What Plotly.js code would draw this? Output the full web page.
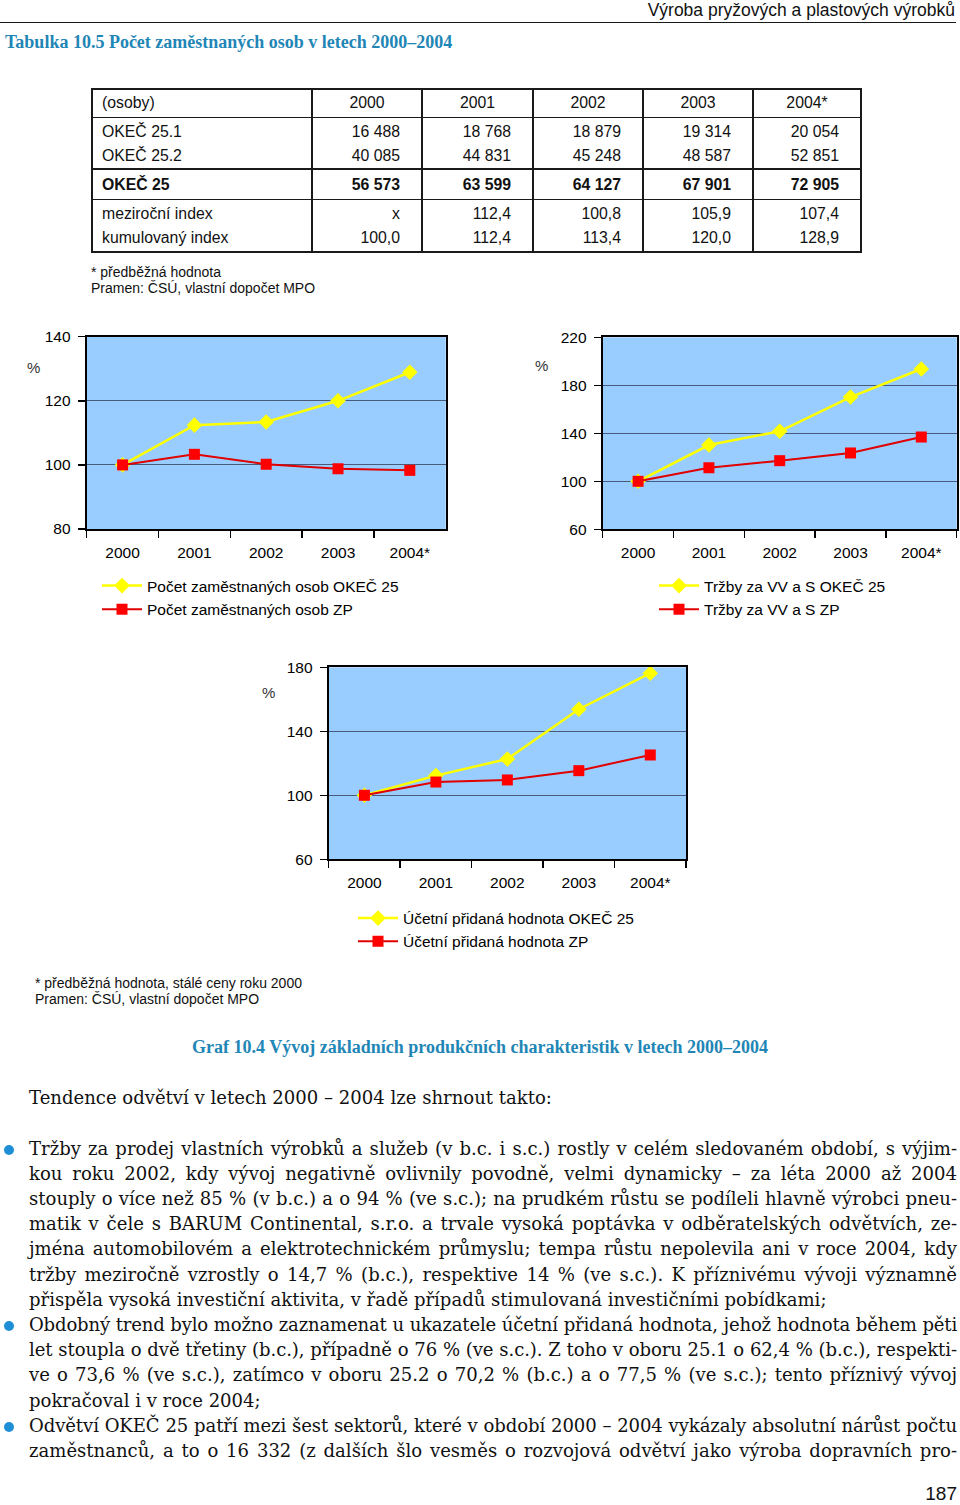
<!DOCTYPE html>
<html><head><meta charset="utf-8">
<script src="https://cdn.plot.ly/plotly-3.0.1.min.js"></script>
<style>
body{margin:0;padding:0;background:#fff;}
#page{position:relative;width:960px;height:1505px;overflow:hidden;font-family:"Liberation Sans",Arial,sans-serif;color:#111;}
#plot{position:absolute;left:0;top:0;width:960px;height:1505px;z-index:0;}
#overlay{position:absolute;left:0;top:0;width:960px;height:1505px;z-index:1;pointer-events:none;}
.t{position:absolute;white-space:nowrap;}
.hl{position:absolute;background:#1a1a1a;}
.serif{font-family:"Liberation Serif","Times New Roman",serif;}
.body{font-family:"DejaVu Serif",serif;}
.jl{position:absolute;left:29px;width:928px;height:25.2px;line-height:25.2px;text-align:justify;text-align-last:justify;white-space:normal;overflow:visible;}
.jl.last{text-align:left;text-align-last:left;}
.bullet{position:absolute;width:10px;height:10px;border-radius:50%;background:#1e8fd6;}
</style></head>
<body><div id="page"><div id="plot"></div><div id="overlay"></div></div>
<script>
// ---------- data ----------
const years = ['2000', '2001', '2002', '2003', '2004*'];
// chart 1: employment index (%)
const emplOKEC25 = [100.0, 112.4, 113.4, 120.0, 128.9];
const emplZP = [100.0, 103.3, 100.2, 98.8, 98.3];
// chart 2: sales of own products and services (%)
const salesOKEC25 = [100.0, 130.2, 141.7, 170.2, 193.6];
const salesZP = [100.0, 111.3, 117.2, 123.6, 136.9];
// chart 3: accounting value added (%)
const vaOKEC25 = [100.0, 112.3, 122.7, 153.8, 176.3];
const vaZP = [100.0, 108.3, 109.6, 115.4, 125.2];

// table 10.5
const tableCorner = '(osoby)';
const rowLabels = ['OKEČ 25.1', 'OKEČ 25.2', 'OKEČ 25', 'meziroční index', 'kumulovaný index'];
const okec251 = ['16 488', '18 768', '18 879', '19 314', '20 054'];
const okec252 = ['40 085', '44 831', '45 248', '48 587', '52 851'];
const okec25 = ['56 573', '63 599', '64 127', '67 901', '72 905'];
const yoyIndex = ['x', '112,4', '100,8', '105,9', '107,4'];
const cumIndex = ['100,0', '112,4', '113,4', '120,0', '128,9'];

// ---------- overlay text ----------
const ov = document.getElementById('overlay');
function txt(s, x, yc, opts) {
  opts = opts || {};
  const d = document.createElement('div');
  d.className = 't' + (opts.cls ? ' ' + opts.cls : '');
  d.textContent = s;
  const fs = opts.size || 15;
  const lh = opts.lh || 1.2;
  d.style.fontSize = fs + 'px';
  d.style.lineHeight = (fs * lh) + 'px';
  d.style.top = (yc - fs * lh / 2) + 'px';
  if (opts.weight) d.style.fontWeight = opts.weight;
  if (opts.color) d.style.color = opts.color;
  if (opts.align === 'right') { d.style.right = (960 - x) + 'px'; }
  else if (opts.align === 'center') { d.style.left = (x - 400) + 'px'; d.style.width = '800px'; d.style.textAlign = 'center'; }
  else d.style.left = x + 'px';
  ov.appendChild(d);
  return d;
}
function line(x, y, w, h) {
  const d = document.createElement('div');
  d.className = 'hl';
  d.style.left = x + 'px'; d.style.top = y + 'px';
  d.style.width = w + 'px'; d.style.height = h + 'px';
  ov.appendChild(d);
}

// page header
txt('Výroba pryžových a plastových výrobků', 955, 10.5, {size: 17.5, lh: 1.15, align: 'right', color: '#111'});
line(0, 21.5, 956, 1.5);
txt('Tabulka 10.5 Počet zaměstnaných osob v letech 2000–2004', 5, 43, {size: 18, weight: 'bold', cls: 'serif', color: '#1f86b6'});

// table
const TS = 15.8;
const colX = [92, 312, 422, 533, 643, 753, 861];
const rowY = [103, 132, 156, 185, 214, 238];
const tableRows = [okec251, okec252, okec25, yoyIndex, cumIndex];
txt(tableCorner, 102, rowY[0], {size: TS});
years.forEach((y, i) => txt(y, (colX[i + 1] + colX[i + 2]) / 2, rowY[0], {size: TS, align: 'center'}));
tableRows.forEach((vals, r) => {
  const bold = r === 2 ? 'bold' : null;
  txt(rowLabels[r], 102, rowY[r + 1], {size: TS, weight: bold});
  vals.forEach((v, i) => txt(v, colX[i + 2] - 22, rowY[r + 1], {size: TS, weight: bold, align: 'right'}));
});
// table rules
line(91, 87.5, 771, 2);      // top
line(91, 250.5, 771, 2);     // bottom
line(91, 87.5, 2, 165);      // left
line(860, 87.5, 2, 165);     // right
[312, 422, 533, 643, 753].forEach(x => line(x - 0.75, 88, 1.5, 163));
[117.5, 169, 199.5].forEach(y => line(92, y - 0.75, 769, 1.5));

txt('* předběžná hodnota', 91, 272, {size: 14});
txt('Pramen: ČSÚ, vlastní dopočet MPO', 91, 288, {size: 14});

// % labels
txt('%', 27, 368, {size: 15, color: '#333'});
txt('%', 535, 366, {size: 15, color: '#333'});
txt('%', 262, 693, {size: 15, color: '#333'});

txt('* předběžná hodnota, stálé ceny roku 2000', 35, 983, {size: 14});
txt('Pramen: ČSÚ, vlastní dopočet MPO', 35, 999, {size: 14});

txt('Graf 10.4 Vývoj základních produkčních charakteristik v letech 2000–2004', 480, 1048, {size: 18, weight: 'bold', cls: 'serif', color: '#1f86b6', align: 'center'});

// body text: size fitted so the intro line spans its width in the page
const ctx = document.createElement('canvas').getContext('2d');
const BODYFAM = '"DejaVu Serif", serif';
function mw(s, size) { ctx.font = size + 'px ' + BODYFAM; return ctx.measureText(s).width; }
const intro = 'Tendence odvětví v letech 2000 – 2004 lze shrnout takto:';
let BS = 20 * 523 / mw(intro, 20);
if (!(BS > 12 && BS < 26)) BS = 18;
txt(intro, 29, 1098, {size: BS, cls: 'body', color: '#111'});

const bodyLines = [
  ['Tržby za prodej vlastních výrobků a služeb (v b.c. i s.c.) rostly v celém sledovaném období, s výjim-', 1, 0],
  ['kou roku 2002, kdy vývoj negativně ovlivnily povodně, velmi dynamicky – za léta 2000 až 2004', 0, 0],
  ['stouply o více než 85 % (v b.c.) a o 94 % (ve s.c.); na prudkém růstu se podíleli hlavně výrobci pneu-', 0, 0],
  ['matik v čele s BARUM Continental, s.r.o. a trvale vysoká poptávka v odběratelských odvětvích, ze-', 0, 0],
  ['jména automobilovém a elektrotechnickém průmyslu; tempa růstu nepolevila ani v roce 2004, kdy', 0, 0],
  ['tržby meziročně vzrostly o 14,7 % (b.c.), respektive 14 % (ve s.c.). K příznivému vývoji významně', 0, 0],
  ['přispěla vysoká investiční aktivita, v řadě případů stimulovaná investičními pobídkami;', 0, 1],
  ['Obdobný trend bylo možno zaznamenat u ukazatele účetní přidaná hodnota, jehož hodnota během pěti', 1, 0],
  ['let stoupla o dvě třetiny (b.c.), případně o 76 % (ve s.c.). Z toho v oboru 25.1 o 62,4 % (b.c.), respekti-', 0, 0],
  ['ve o 73,6 % (ve s.c.), zatímco v oboru 25.2 o 70,2 % (b.c.) a o 77,5 % (ve s.c.); tento příznivý vývoj', 0, 0],
  ['pokračoval i v roce 2004;', 0, 1],
  ['Odvětví OKEČ 25 patří mezi šest sektorů, které v období 2000 – 2004 vykázaly absolutní nárůst počtu', 1, 0],
  ['zaměstnanců, a to o 16 332 (z dalších šlo vesměs o rozvojová odvětví jako výroba dopravních pro-', 0, 0]
];
bodyLines.forEach((l, i) => {
  const yc = 1149 + i * 25.2;
  const d = document.createElement('div');
  d.className = 'jl body' + (l[2] ? ' last' : '');
  d.style.top = (yc - 13.5) + 'px';
  d.style.fontSize = BS + 'px';
  d.style.color = '#111';
  const w = mw(l[0], BS);
  if (w > 925) d.style.letterSpacing = ((925 - w) / l[0].length).toFixed(3) + 'px';
  d.textContent = l[0];
  ov.appendChild(d);
  if (l[1]) {
    const b = document.createElement('div');
    b.className = 'bullet';
    b.style.left = (9 - 5) + 'px';
    b.style.top = (yc - 4) + 'px';
    ov.appendChild(b);
  }
});

txt('187', 957, 1494, {size: 19, align: 'right'});

// ---------- charts ----------
const W = 960, H = 1505;
const PX = x => x / W, PY = y => 1 - y / H;
const tickFont = {family: 'Liberation Sans, Arial, sans-serif', size: 15.5, color: '#000'};
function xAxis(x0, x1, anchor) {
  return {domain: [PX(x0), PX(x1)], anchor: anchor, type: 'category', range: [-0.5, 4.5],
    tickson: 'boundaries', ticks: 'outside', ticklen: 7, tickwidth: 1.5, tickcolor: '#000',
    showline: true, linewidth: 2, linecolor: '#000', mirror: true, showgrid: false,
    tickfont: tickFont, ticklabelstandoff: 8, fixedrange: true};
}
function yAxis(yTop, yBot, anchor, range, dtick) {
  return {domain: [PY(yBot), PY(yTop)], anchor: anchor, range: range, dtick: dtick, tick0: range[0],
    ticks: 'outside', ticklen: 7, tickwidth: 1.5, tickcolor: '#000',
    showline: true, linewidth: 2, linecolor: '#000', mirror: true,
    showgrid: true, gridcolor: '#4a5a7a', gridwidth: 1, zeroline: false,
    tickfont: tickFont, ticklabelstandoff: 4, fixedrange: true};
}
function yellow(y, name, xa, ya, lg) {
  return {x: years, y: y, name: name, type: 'scatter', mode: 'lines+markers', xaxis: xa, yaxis: ya,
    legend: lg, legendgroup: lg + 'a', cliponaxis: false,
    line: {color: '#FFFF00', width: 2.5}, marker: {symbol: 'diamond', size: 12, color: '#FFFF00'}};
}
function red(y, name, xa, ya, lg) {
  return {x: years, y: y, name: name, type: 'scatter', mode: 'lines+markers', xaxis: xa, yaxis: ya,
    legend: lg, legendgroup: lg + 'b', cliponaxis: false,
    line: {color: '#E00000', width: 2}, marker: {symbol: 'square', size: 11, color: '#FF0000'}};
}
const data = [
  yellow(emplOKEC25, 'Počet zaměstnaných osob OKEČ 25', 'x', 'y', 'legend'),
  red(emplZP, 'Počet zaměstnaných osob ZP', 'x', 'y', 'legend'),
  yellow(salesOKEC25, 'Tržby za VV a S OKEČ 25', 'x2', 'y2', 'legend2'),
  red(salesZP, 'Tržby za VV a S ZP', 'x2', 'y2', 'legend2'),
  yellow(vaOKEC25, 'Účetní přidaná hodnota OKEČ 25', 'x3', 'y3', 'legend3'),
  red(vaZP, 'Účetní přidaná hodnota ZP', 'x3', 'y3', 'legend3')
];
function lg(x, y, gap) {
  return {x: PX(x), y: PY(y), xanchor: 'left', yanchor: 'top', bgcolor: 'rgba(0,0,0,0)',
    font: {family: 'Liberation Sans, Arial, sans-serif', size: 15.5, color: '#000'},
    itemwidth: 40, traceorder: 'grouped', tracegroupgap: gap, borderwidth: 0};
}
const layout = {
  width: W, height: H, margin: {l: 0, r: 0, t: 0, b: 0, pad: 0},
  paper_bgcolor: '#fff', plot_bgcolor: '#99CCFF', showlegend: true,
  font: {family: 'Liberation Sans, Arial, sans-serif', color: '#000'},
  xaxis: xAxis(86.7, 445.7, 'y'), yaxis: yAxis(336.7, 529, 'x', [80, 140], 20),
  xaxis2: xAxis(602.7, 956.7, 'y2'), yaxis2: yAxis(337.3, 529.3, 'x2', [60, 220], 40),
  xaxis3: xAxis(328.7, 686, 'y3'), yaxis3: yAxis(667.3, 859.3, 'x3', [60, 180], 40),
  legend: lg(97, 569, 0.5), legend2: lg(654, 569, 0.5), legend3: lg(353, 901.5, 0)
};
Plotly.newPlot('plot', data, layout, {staticPlot: true, displayModeBar: false});
</script></body></html>
